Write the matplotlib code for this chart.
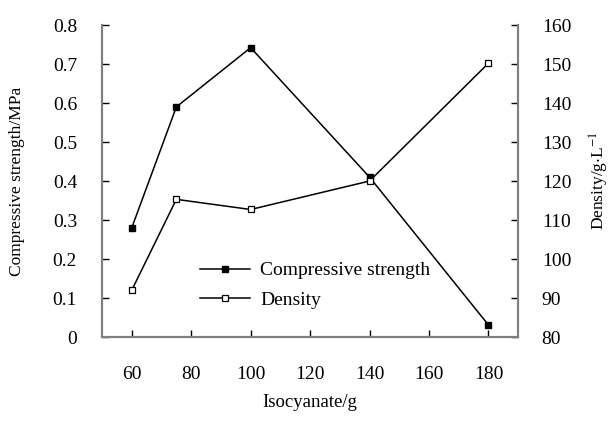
import matplotlib.pyplot as plt

plt.rcParams.update({
    'font.family': 'Liberation Serif',
    'font.size': 14,
    'mathtext.fontset': 'stix',
})

isocyanate = [60, 75, 100, 140, 180]
strength = [0.28, 0.59, 0.742, 0.41, 0.031]
density = [92, 115.3, 112.7, 120, 150.2]

spine_col = '#7f7f7f'

fig = plt.figure(figsize=(6.11, 4.21), dpi=100)
ax1 = fig.add_axes([0.167, 0.1995, 0.681, 0.741])
ax2 = ax1.twinx()

l1, = ax1.plot(isocyanate, strength, color='black', lw=1.1, marker='s',
               ms=5, mfc='black', mec='black', label='Compressive strength')
l2, = ax2.plot(isocyanate, density, color='black', lw=1.1, marker='s',
               ms=5, mfc='white', mec='black', mew=0.9, label='Density')

ax1.set_xlim(50, 190)
ax1.set_ylim(0, 0.8)
ax1.set_xticks([60, 80, 100, 120, 140, 160, 180])
ax1.set_yticks([0, 0.1, 0.2, 0.3, 0.4, 0.5, 0.6, 0.7, 0.8])
ax1.set_yticklabels(['0', '0.1', '0.2', '0.3', '0.4', '0.5', '0.6', '0.7', '0.8'])
ax2.set_ylim(80, 160)
ax2.set_yticks(range(80, 161, 10))

for ax in (ax1, ax2):
    for s in ax.spines.values():
        s.set_color(spine_col)
        s.set_linewidth(1.5)
    ax.spines['top'].set_visible(False)

ax1.tick_params(axis='both', direction='in', length=5, width=1, color='black')
ax1.tick_params(axis='x', pad=21)
ax1.tick_params(axis='y', pad=18)
ax2.tick_params(axis='y', direction='in', length=5, width=1, color='black', pad=17)

ax1.set_xlabel('Isocyanate/g', fontsize=13.5, labelpad=8)
ax1.set_ylabel('Compressive strength/MPa', fontsize=12.5, labelpad=20)
ax2.set_ylabel(r'Density/g$\cdot$L$^{-1}$', fontsize=12.5, labelpad=12)

ax1.legend([l1, l2], ['Compressive strength', 'Density'], frameon=False,
           loc='upper left', bbox_to_anchor=(190 / 611, 1 - 252 / 421),
           bbox_transform=fig.transFigure, handlelength=2.6, borderpad=0,
           labelspacing=0.6, handletextpad=0.5)

plt.savefig('out.png', dpi=100)
